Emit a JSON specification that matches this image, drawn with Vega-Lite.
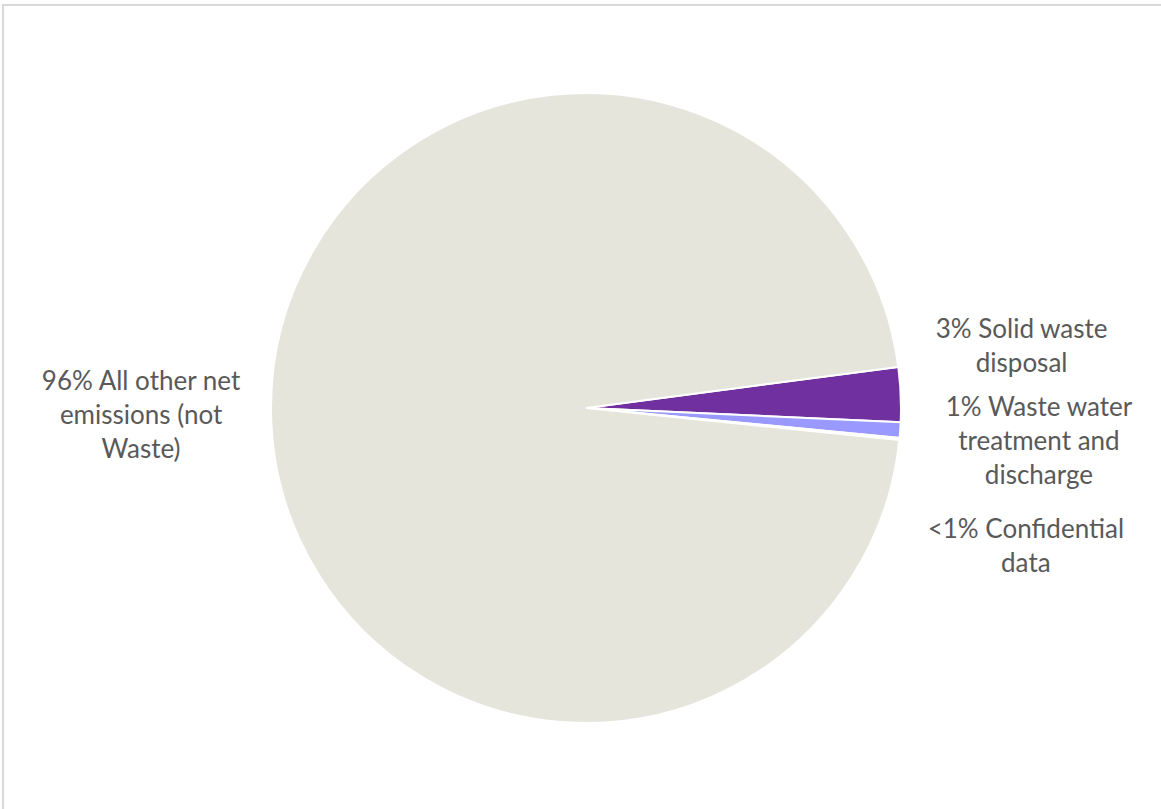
{
  "$schema": "https://vega.github.io/schema/vega-lite/v6.json",
  "width": 1166,
  "height": 806,
  "autosize": {"type": "none"},
  "padding": {"left": 3, "top": 5, "right": 0, "bottom": 0},
  "background": "white",
  "view": {"stroke": "#d9d9d9", "strokeWidth": 2},
  "data": {
    "values": [
      {"k": 1, "category": "Solid waste disposal", "value": 2.8, "label": "3% Solid waste\ndisposal"},
      {"k": 2, "category": "Waste water treatment and discharge", "value": 0.8, "label": "1% Waste water\ntreatment and\ndischarge"},
      {"k": 3, "category": "Confidential data", "value": 0.1, "label": "<1% Confidential\ndata"},
      {"k": 4, "category": "All other net emissions (not Waste)", "value": 96.3, "label": "96% All other net\nemissions (not\nWaste)"}
    ]
  },
  "transform": [
    {"stack": "value", "groupby": [], "sort": [{"field": "k", "order": "ascending"}], "as": ["v0", "v1"]},
    {"calculate": "(datum.v0 + datum.v1) / 2", "as": "mid"}
  ],
  "layer": [
    {
      "mark": {"type": "arc", "radius": 315, "stroke": "white", "strokeWidth": 2},
      "encoding": {
        "theta": {"field": "v0", "type": "quantitative", "stack": null, "scale": {"domain": [0, 100], "range": [1.4399, 7.7231]}},
        "theta2": {"field": "v1"},
        "color": {
          "field": "category", "type": "nominal", "legend": null,
          "scale": {
            "domain": ["Solid waste disposal", "Waste water treatment and discharge", "Confidential data", "All other net emissions (not Waste)"],
            "range": ["#7030a0", "#9999ff", "#d0d0d0", "#e5e5dc"]
          }
        }
      }
    },
    {
      "transform": [{"filter": "datum.k == 1"}],
      "mark": {"type": "text", "radius": 445, "dx": -9, "dy": -59, "align": "center", "baseline": "middle", "lineBreak": "\n", "lineHeight": 34, "font": "Lato", "fontSize": 26, "fill": "#595959"},
      "encoding": {"theta": {"field": "mid", "type": "quantitative", "stack": null}, "text": {"field": "label"}}
    },
    {
      "transform": [{"filter": "datum.k == 2"}],
      "mark": {"type": "text", "radius": 445, "dx": 9, "dy": -31, "align": "center", "baseline": "middle", "lineBreak": "\n", "lineHeight": 34, "font": "Lato", "fontSize": 26, "fill": "#595959"},
      "encoding": {"theta": {"field": "mid", "type": "quantitative", "stack": null}, "text": {"field": "label"}}
    },
    {
      "transform": [{"filter": "datum.k == 3"}],
      "mark": {"type": "text", "radius": 445, "dx": -3, "dy": 78, "align": "center", "baseline": "middle", "lineBreak": "\n", "lineHeight": 34, "font": "Lato", "fontSize": 26, "fill": "#595959"},
      "encoding": {"theta": {"field": "mid", "type": "quantitative", "stack": null}, "text": {"field": "label"}}
    },
    {
      "transform": [{"filter": "datum.k == 4"}],
      "mark": {"type": "text", "radius": 445, "dx": 0, "dy": -33, "align": "center", "baseline": "middle", "lineBreak": "\n", "lineHeight": 34, "font": "Lato", "fontSize": 26, "fill": "#595959"},
      "encoding": {"theta": {"field": "mid", "type": "quantitative", "stack": null}, "text": {"field": "label"}}
    }
  ]
}
